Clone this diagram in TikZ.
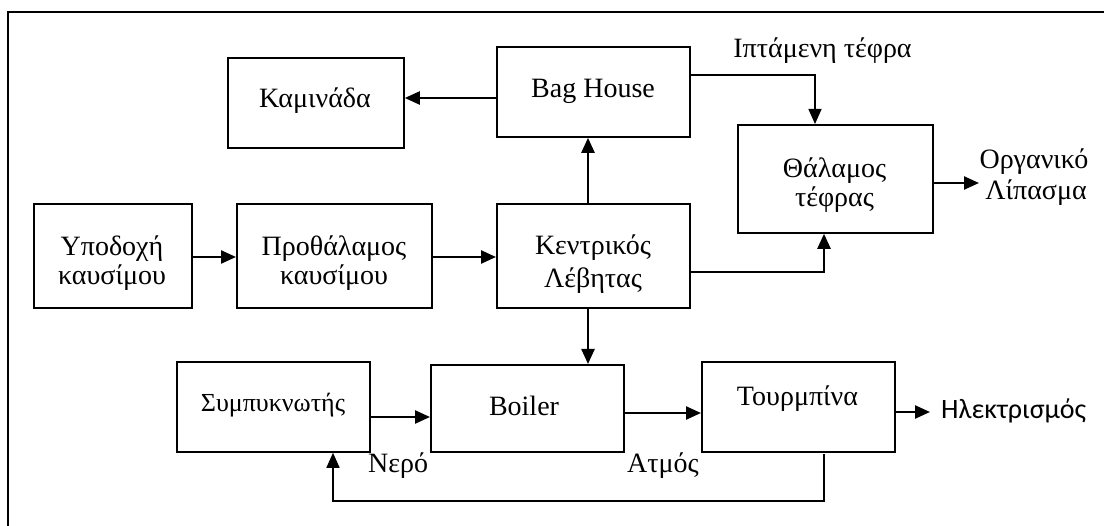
\documentclass[tikz,border=0pt]{standalone}
\usepackage{fontspec}
\setmainfont{Liberation Serif}
\newfontfamily\calibrifont{Carlito}
\usetikzlibrary{arrows.meta}

\tikzset{
  blk/.style={draw, line width=1.8pt, inner sep=0pt, anchor=north west},
  lbl/.style={anchor=base, inner sep=0pt, font=\fontsize{28}{31}\selectfont},
  flow/.style={line width=2.4pt, -{Triangle[length=15pt,width=13pt]}},
  thinflow/.style={line width=1.4pt, -{Triangle[length=15pt,width=13pt]}},
  backflow/.style={line width=1.7pt, -{Triangle[length=15pt,width=13pt]}},
}

\begin{document}
\begin{tikzpicture}[x=1pt, y=-1pt]
\useasboundingbox (0,0) rectangle (1104,526);

% page frame (left and top edges)
\draw[line width=1.6pt] (8,526) -- (8,12) -- (1104,12);

% blocks
\node[blk, minimum width=176pt, minimum height=90pt]  (kam)  at (227,57)  {};
\node[blk, minimum width=193pt, minimum height=90pt]  (bag)  at (496,46)  {};
\node[blk, minimum width=195pt, minimum height=108pt] (tha)  at (737,124) {};
\node[blk, minimum width=158pt, minimum height=104pt] (ypo)  at (33,203)  {};
\node[blk, minimum width=195pt, minimum height=104pt] (pro)  at (236,203) {};
\node[blk, minimum width=193pt, minimum height=104pt] (ken)  at (496,203) {};
\node[blk, minimum width=193pt, minimum height=90pt]  (cond) at (176,361) {};
\node[blk, minimum width=193pt, minimum height=87pt]  (boil) at (430,364) {};
\node[blk, minimum width=193pt, minimum height=90pt]  (turb) at (701,361) {};

% block texts
\node[lbl] (kamt)  at (315,108) {Καμινάδα};
\node[lbl] (bagt)  at (593,98)  {Bag House};
\node[lbl] (tha1)  at (834.5,178) {Θάλαμος};
\node[lbl] (tha2)  at (834.5,207) {τέφρας};
\node[lbl] (ypo1)  at (112,256) {Υποδοχή};
\node[lbl] (ypo2)  at (112,285) {καυσίμου};
\node[lbl] (pro1)  at (334,256) {Προθάλαμος};
\node[lbl] (pro2)  at (334,285) {καυσίμου};
\node[lbl] (ken1)  at (593,255) {Κεντρικός};
\node[lbl] (ken2)  at (593,288) {Λέβητας};
\node[lbl, font=\fontsize{26}{30}\selectfont] (condt) at (273,412) {Συμπυκνωτής};
\node[lbl] (boilt) at (524,416) {Boiler};
\node[lbl] (turbt) at (797.5,406) {Τουρμπίνα};

% free labels
\node[lbl] (fly)  at (822.5,58) {Ιπτάμενη τέφρα};
\node[lbl] (org1) at (1034,169) {Οργανικό};
\node[lbl] (org2) at (1036,200) {Λίπασμα};
\node[lbl, anchor=base west] (water) at (368,473) {Νερό};
\node[lbl] (steam) at (663,473) {Ατμός};
\node[anchor=base west, inner sep=0pt, font=\calibrifont\fontsize{28}{31}\selectfont] (elec) at (941,419) {Ηλεκτρισμός};

\coordinate (orgend)  at (979,183);
\coordinate (elecend) at (930,412);
\coordinate (flyx)    at (815,75);
\coordinate (ashx)    at (824,272);
\coordinate (fbstart) at (824,454);
\coordinate (fbturn)  at (333,501);

% connectors
\draw[flow] (ypo.east |- 0,257) -- (pro.west |- 0,257);
\draw[flow] (pro.east |- 0,257) -- (ken.west |- 0,257);
\draw[flow] (ken.north -| 588,0) -- (bag.south -| 588,0);
\draw[flow] (bag.west |- 0,98) -- (kam.east |- 0,98);
\draw[thinflow] (bag.east |- flyx) -- (flyx) -- (tha.north -| flyx);
\draw[flow] (ken.east |- ashx) -- (ashx) -- (tha.south -| ashx);
\draw[flow] (tha.east |- orgend) -- (orgend);
\draw[flow] (ken.south -| 588,0) -- (boil.north -| 588,0);
\draw[flow] (cond.east |- 0,417) -- (boil.west |- 0,417);
\draw[flow] (boil.east |- 0,413) -- (turb.west |- 0,413);
\draw[flow] (turb.east |- elecend) -- (elecend);
\draw[backflow] (fbstart) |- (fbturn) -- (cond.south -| fbturn);
\end{tikzpicture}
\end{document}
